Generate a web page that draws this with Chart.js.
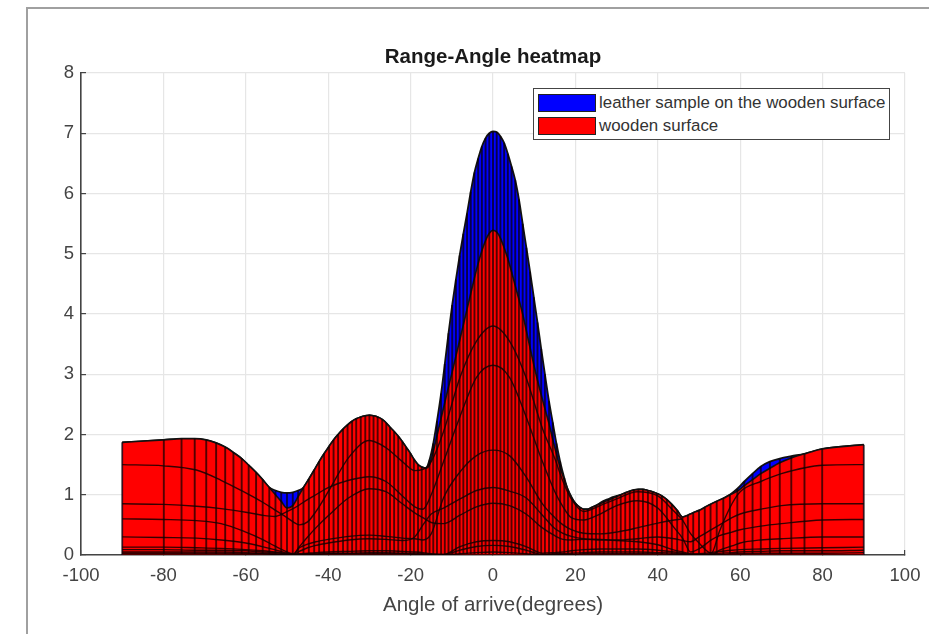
<!DOCTYPE html>
<html>
<head>
<meta charset="utf-8">
<title>Range-Angle heatmap</title>
<script src="https://cdn.jsdelivr.net/npm/chart.js@4"></script>
<style>
  html, body { margin: 0; padding: 0; background: #fff; overflow: hidden; }
  #page { position: relative; width: 929px; height: 634px; filter: blur(0.6px); font-family: "Liberation Sans", Arial, sans-serif; }
  #frame { position: absolute; left: 26px; top: 7px; right: 0; bottom: 0; border-left: 2px solid #a0a0a0; border-top: 2px solid #a0a0a0; }
  canvas { position: absolute; left: 0; top: 0; }
  #legend { position: absolute; left: 533px; top: 88px; width: 355px; height: 50px; background: #fff; border: 1.5px solid #444; color: #333; font-size: 16.9px; }
  .row { position: absolute; left: 4px; height: 18px; line-height: 18px; white-space: nowrap; }
  .swatch { display: inline-block; width: 56px; height: 16px; border: 1px solid #222; vertical-align: top; margin-right: 3px; }
</style>
</head>
<body>
<div id="page">
  <div id="frame"></div>
  <canvas id="chart" width="929" height="634"></canvas>
  <div id="legend">
    <div class="row" style="top:5px"><span class="swatch" style="background:#0000ff"></span>leather sample on the wooden surface</div>
    <div class="row" style="top:28px"><span class="swatch" style="background:#ff0000"></span>wooden surface</div>
  </div>
</div>
<script>
// angle bins of the array response
const angles = [
  -90, -79.9, -75.6, -72.4, -69.6, -67.2, -65, -63, -61, -59.3, -57.5, -55.9, -54.3, -52.8, -51.4, -50,
  -48.6, -47.3, -46, -44.7, -43.4, -42.2, -41, -39.8, -38.7, -37.6, -36.4, -35.3, -34.2, -33.2, -32.1, -31,
  -30, -29, -28, -26.9, -25.9, -25, -24, -23, -22, -21.1, -20.1, -19.2, -18.2, -17.3, -16.3, -15.4,
  -14.5, -13.6, -12.6, -11.7, -10.8, -9.9, -9, -8.1, -7.2, -6.3, -5.4, -4.5, -3.6, -2.7, -1.8, -0.9,
  0,
  0.9, 1.8, 2.7, 3.6, 4.5, 5.4, 6.3, 7.2, 8.1, 9, 9.9, 10.8, 11.7, 12.6, 13.6, 14.5,
  15.4, 16.3, 17.3, 18.2, 19.2, 20.1, 21.1, 22, 23, 24, 25, 25.9, 26.9, 28, 29, 30,
  31, 32.1, 33.2, 34.2, 35.3, 36.4, 37.6, 38.7, 39.8, 41, 42.2, 43.4, 44.7, 46, 47.3, 48.6,
  50, 51.4, 52.8, 54.3, 55.9, 57.5, 59.3, 61, 63, 65, 67.2, 69.6, 72.4, 75.6, 79.9, 90
];

const leatherTop = [
  1.87, 1.91, 1.93, 1.93, 1.91, 1.86, 1.79, 1.70, 1.60, 1.49, 1.37, 1.25, 1.12, 1.07, 1.04, 1.03,
  1.04, 1.07, 1.12, 1.26, 1.41, 1.55, 1.68, 1.80, 1.91, 2.00, 2.09, 2.16, 2.22, 2.26, 2.29, 2.31,
  2.32, 2.31, 2.29, 2.25, 2.19, 2.12, 2.05, 1.97, 1.88, 1.79, 1.69, 1.59, 1.50, 1.46, 1.44, 1.58,
  1.85, 2.22, 2.68, 3.17, 3.68, 4.15, 4.57, 4.97, 5.33, 5.67, 6.03, 6.35, 6.58, 6.78, 6.92, 7.00,
  7.03,
  7.02, 6.95, 6.84, 6.66, 6.45, 6.22, 5.90, 5.50, 5.10, 4.70, 4.28, 3.86, 3.42, 3.00, 2.55, 2.20,
  1.85, 1.55, 1.28, 1.08, 0.94, 0.85, 0.79, 0.76, 0.76, 0.79, 0.82, 0.86, 0.90, 0.93, 0.96, 0.98,
  1.00, 1.03, 1.06, 1.08, 1.09, 1.09, 1.07, 1.05, 1.02, 0.98, 0.92, 0.84, 0.74, 0.63, 0.66, 0.70,
  0.74, 0.79, 0.84, 0.89, 0.94, 1.00, 1.10, 1.22, 1.35, 1.47, 1.55, 1.60, 1.64, 1.68, 1.76, 1.83
];

const woodTop = [
  1.87, 1.91, 1.93, 1.93, 1.91, 1.86, 1.79, 1.70, 1.60, 1.49, 1.37, 1.25, 1.12, 1.00, 0.89, 0.78,
  0.82, 0.97, 1.12, 1.26, 1.41, 1.55, 1.68, 1.80, 1.91, 2.00, 2.09, 2.16, 2.22, 2.26, 2.29, 2.31,
  2.32, 2.31, 2.29, 2.25, 2.19, 2.12, 2.05, 1.97, 1.88, 1.79, 1.69, 1.59, 1.50, 1.46, 1.44, 1.50,
  1.72, 1.98, 2.27, 2.53, 2.79, 3.04, 3.30, 3.56, 3.82, 4.08, 4.34, 4.60, 4.84, 5.05, 5.22, 5.34,
  5.39,
  5.36, 5.26, 5.10, 4.92, 4.70, 4.47, 4.24, 4.00, 3.72, 3.44, 3.16, 2.90, 2.66, 2.43, 2.18, 1.92,
  1.68, 1.45, 1.25, 1.08, 0.94, 0.85, 0.79, 0.76, 0.76, 0.79, 0.82, 0.85, 0.88, 0.91, 0.94, 0.97,
  1.00, 1.03, 1.06, 1.08, 1.09, 1.09, 1.07, 1.05, 1.02, 0.98, 0.92, 0.84, 0.74, 0.63, 0.66, 0.70,
  0.74, 0.79, 0.84, 0.89, 0.94, 1.00, 1.06, 1.15, 1.25, 1.35, 1.44, 1.53, 1.61, 1.68, 1.76, 1.83
];

// the lower range bins, read at fewer angles
const binAngles = [
  -90, -80, -72, -66, -60, -56, -53, -50, -48.5, -47, -45, -43, -40, -35, -30, -26, -22, -19, -17, -15,
  -12, -8, -4, 0, 4, 8, 12, 15, 17, 19, 22, 26, 30, 35, 40, 44, 46, 48, 50, 53, 55, 58, 60, 65, 70, 80, 90
];
const bin1 = [
  1.50, 1.48, 1.41, 1.24, 1.03, 0.88, 0.75, 0.62, 0.55, 0.50, 0.55, 0.72, 1.05, 1.62, 1.90, 1.78, 1.55, 1.40, 1.42, 1.55,
  2.05, 2.95, 3.55, 3.80, 3.55, 2.95, 2.10, 1.60, 1.22, 0.93, 0.72, 0.82, 0.93, 1.05, 0.98, 0.72, 0.58, 0.35, 0.20, 0.03, 0.40, 0.85, 1.05, 1.22, 1.35, 1.49, 1.50
];
const bin2 = [
  0.85, 0.84, 0.81, 0.77, 0.71, 0.66, 0.64, 0.72, 0.77, 0.83, 0.92, 1.00, 1.12, 1.24, 1.30, 1.22, 0.98, 0.80, 0.76, 1.00,
  1.55, 2.30, 2.95, 3.15, 2.95, 2.30, 1.55, 1.05, 0.80, 0.62, 0.58, 0.68, 0.82, 0.90, 0.78, 0.45, 0.28, 0.05, 0.10, 0.25, 0.32, 0.38, 0.42, 0.48, 0.52, 0.58, 0.59
];
const bin3 = [
  0.60, 0.59, 0.57, 0.52, 0.38, 0.26, 0.15, 0.05, 0.02, 0.14, 0.30, 0.45, 0.65, 0.95, 1.10, 1.05, 0.85, 0.70, 0.62, 0.54,
  0.52, 0.66, 0.80, 0.86, 0.82, 0.68, 0.45, 0.32, 0.26, 0.25, 0.26, 0.25, 0.24, 0.22, 0.17, 0.08, 0.05, 0.02, 0.01, 0.00, 0.08, 0.15, 0.20, 0.25, 0.27, 0.30, 0.30
];
const bin4 = [
  0.30, 0.29, 0.28, 0.25, 0.20, 0.14, 0.09, 0.03, 0.01, 0.12, 0.18, 0.22, 0.26, 0.31, 0.33, 0.31, 0.28, 0.27, 0.25, 0.35,
  0.95, 1.38, 1.65, 1.74, 1.65, 1.30, 0.85, 0.62, 0.50, 0.42, 0.36, 0.35, 0.38, 0.45, 0.53, 0.58, 0.60, null, null, null, null, null, null, null, null, null, null
];
const bin5 = [
  0.13, 0.13, 0.12, 0.11, 0.09, 0.07, 0.05, 0.02, 0.01, 0.06, 0.12, 0.16, 0.20, 0.25, 0.27, 0.26, 0.24, 0.30, 0.50, 0.68,
  0.78, 0.93, 1.07, 1.12, 1.06, 0.95, 0.66, 0.44, 0.36, 0.31, 0.27, 0.26, 0.25, 0.27, 0.30, 0.27, 0.24, 0.22, 0.30, 0.42, 0.50, 0.62, 0.68, 0.76, 0.82, 0.85, 0.85
];
const bin6 = [
  0.09, 0.09, 0.08, 0.08, 0.07, 0.05, 0.04, 0.02, 0.01, 0.02, 0.03, 0.04, 0.05, 0.06, 0.07, 0.07, 0.06, 0.05, 0.04, 0.02,
  0.01, 0.14, 0.22, 0.24, 0.22, 0.14, 0.03, 0.04, 0.05, 0.07, 0.09, 0.10, 0.10, 0.10, 0.08, 0.05, 0.03, 0.01, 0.02, 0.04, 0.06, 0.08, 0.09, 0.10, 0.11, 0.12, 0.13
];
const bin7 = [
  0.05, 0.05, 0.05, 0.05, 0.04, 0.03, 0.02, 0.01, 0.01, 0.01, 0.02, 0.02, 0.03, 0.03, 0.04, 0.04, 0.03, 0.03, 0.02, 0.01,
  0.01, 0.08, 0.14, 0.16, 0.14, 0.08, 0.01, 0.02, 0.02, 0.03, 0.04, 0.05, 0.05, 0.05, 0.04, 0.03, 0.02, 0.01, 0.01, 0.02, 0.03, 0.04, 0.05, 0.06, 0.07, 0.07, 0.08
];
const bin8 = [
  0.03, 0.03, 0.03, 0.03, 0.02, 0.02, 0.01, 0.01, 0.00, 0.01, 0.01, 0.01, 0.02, 0.02, 0.02, 0.02, 0.02, 0.01, 0.01, 0.01,
  0.00, 0.02, 0.04, 0.05, 0.04, 0.02, 0.00, 0.01, 0.01, 0.01, 0.02, 0.02, 0.02, 0.02, 0.02, 0.01, 0.01, 0.00, 0.00, 0.01, 0.01, 0.02, 0.02, 0.03, 0.03, 0.03, 0.04
];
const otherBins = [bin1, bin2, bin3, bin4, bin5, bin6, bin7, bin8];

const xTicks = { min: -100, max: 100, step: 20 };
const yTicks = { min: 0, max: 8, step: 1 };

const tickFont = { family: '"Liberation Sans", Arial, sans-serif', size: 18.5 };

function pairs(xs, ys) {
  return xs.map((x, i) => ({ x, y: ys[i] }));
}

// up and down at every angle bin, gives the vertical patch edges
function patchEdges() {
  const pts = [];
  angles.forEach((x, i) => {
    pts.push({ x, y: 0 }, { x, y: leatherTop[i] }, { x, y: 0 });
  });
  return pts;
}

const datasets = [
  ...otherBins.map((bin, i) => ({
    label: `bin ${i + 1}`,
    data: pairs(binAngles, bin),
    borderColor: 'rgba(20,0,0,0.85)',
    borderWidth: 1.4,
    cubicInterpolationMode: 'monotone',
    pointRadius: 0,
    fill: false,
  })),
  {
    label: 'edges',
    data: patchEdges(),
    borderColor: 'rgba(10,0,0,0.7)',
    borderWidth: 1.9,
    pointRadius: 0,
    fill: false,
  },
  {
    label: 'wooden surface',
    data: pairs(angles, woodTop),
    borderColor: '#111',
    borderWidth: 1.6,
    backgroundColor: '#ff0000',
    cubicInterpolationMode: 'monotone',
    pointRadius: 0,
    fill: 'origin',
  },
  {
    label: 'leather sample on the wooden surface',
    data: pairs(angles, leatherTop),
    borderColor: '#111',
    borderWidth: 1.8,
    backgroundColor: '#0000ff',
    cubicInterpolationMode: 'monotone',
    pointRadius: 0,
    fill: 'origin',
  },
];

new Chart(document.getElementById('chart'), {
  type: 'line',
  data: { datasets },
  options: {
    responsive: false,
    animation: false,
    layout: { padding: { left: 41, right: 24, top: 0, bottom: 0 } },
    plugins: {
      legend: { display: false },
      tooltip: { enabled: false },
      title: {
        display: true,
        fullSize: false,
        text: 'Range-Angle heatmap',
        color: '#1a1a1a',
        font: { family: '"Liberation Sans", Arial, sans-serif', size: 20.5, weight: 'bold', lineHeight: 1.2 },
        padding: { top: 44.7, bottom: 3.7 },
      },
    },
    scales: {
      x: {
        type: 'linear',
        min: xTicks.min,
        max: xTicks.max,
        // fixed band below the plot, and no extra room for the end labels
        afterFit: s => { s.height = 79; s.paddingLeft = 0; s.paddingRight = 0; },
        ticks: { stepSize: xTicks.step, color: '#444', font: tickFont, padding: 15, maxRotation: 0 },
        grid: { color: '#e6e6e6', lineWidth: 1.2, tickColor: '#444', tickLength: -5 },
        border: { color: '#444', width: 1.6 },
        title: {
          display: true,
          text: 'Angle of arrive(degrees)',
          color: '#444',
          font: { family: '"Liberation Sans", Arial, sans-serif', size: 20.5 },
          padding: { top: 0, bottom: 16 },
        },
      },
      y: {
        min: yTicks.min,
        max: yTicks.max,
        afterFit: s => { s.width = 40; },
        ticks: { stepSize: yTicks.step, color: '#444', font: tickFont, padding: 12 },
        grid: { color: '#e6e6e6', lineWidth: 1.2, tickColor: '#444', tickLength: -5 },
        border: { color: '#444', width: 1.6 },
      },
    },
  },
});
</script>
</body>
</html>
